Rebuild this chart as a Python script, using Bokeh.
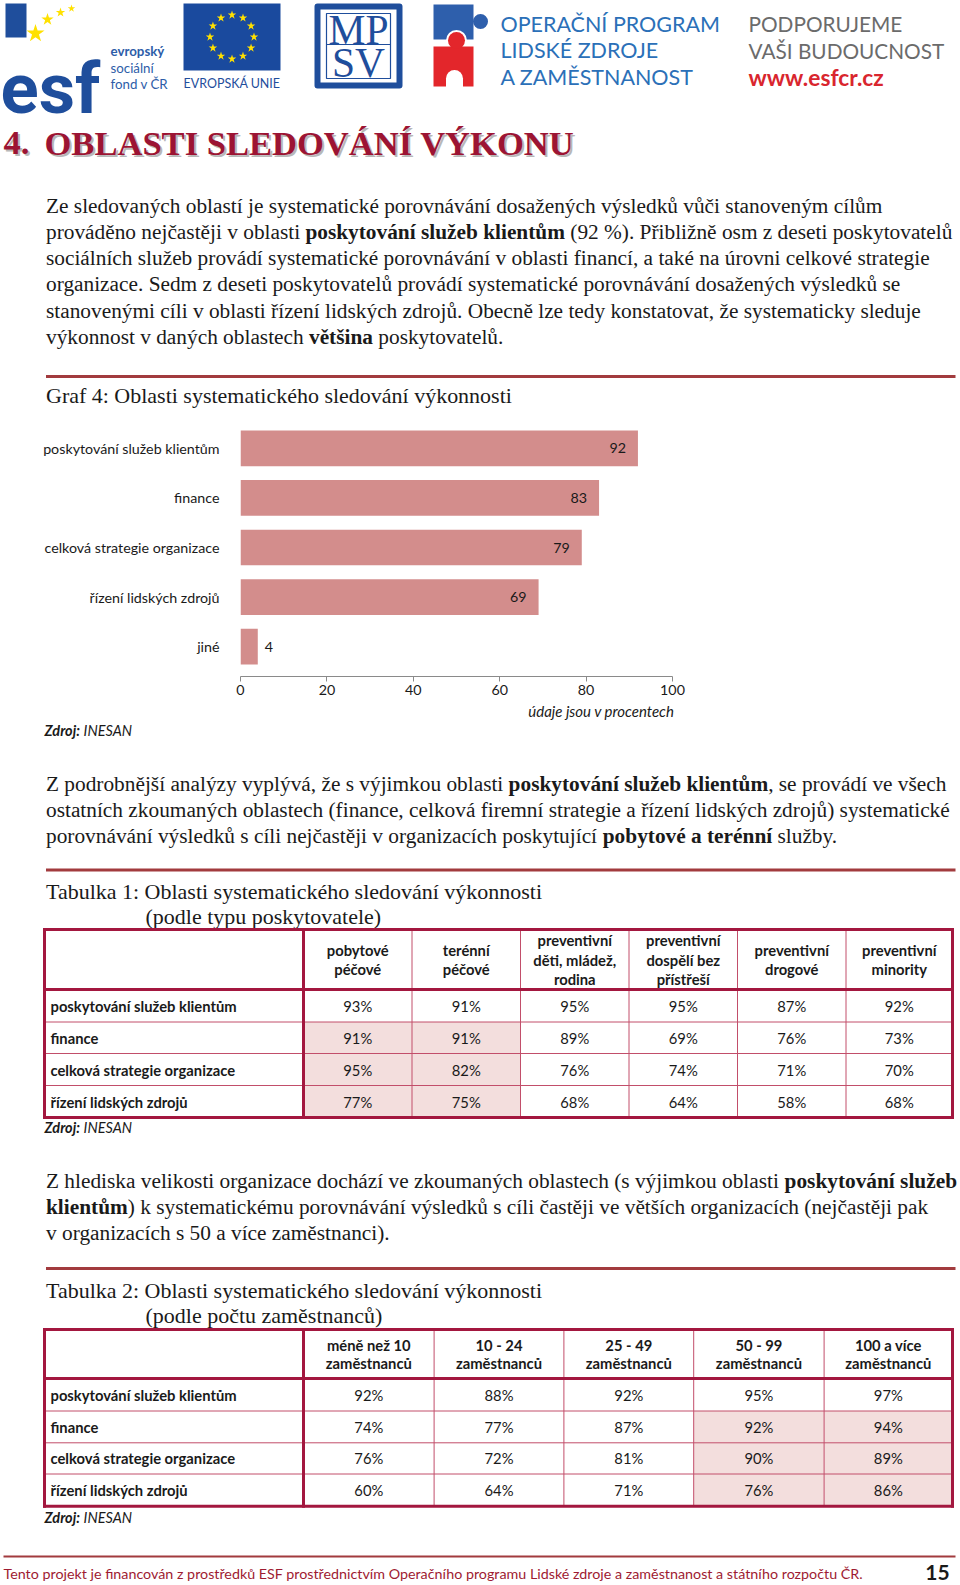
import glob
import math
import os
import struct
import subprocess

from bokeh.core.properties import value
from bokeh.embed import file_html
from bokeh.layouts import column
from bokeh.models import FactorRange, FixedTicker, Range1d
from bokeh.plotting import figure
from bokeh.resources import INLINE

# ======================= DATA =======================
graf_categories = ["poskytování služeb klientům", "finance", "celková strategie organizace",
                   "řízení lidských zdrojů", "jiné"]
graf_values = [92, 83, 79, 69, 4]
graf_ticks = [0, 20, 40, 60, 80, 100]

table_row_labels = ["poskytování služeb klientům", "finance", "celková strategie organizace",
                    "řízení lidských zdrojů"]

t1_headers = [["pobytové", "péčové"], ["terénní", "péčové"],
              ["preventivní", "děti, mládež,", "rodina"],
              ["preventivní", "dospělí bez", "přístřeší"],
              ["preventivní", "drogové"], ["preventivní", "minority"]]
t1_pobytove_pecove = [93, 91, 95, 77]
t1_terenni_pecove = [91, 91, 82, 75]
t1_preventivni_deti = [95, 89, 76, 68]
t1_preventivni_dospeli = [95, 69, 74, 64]
t1_preventivni_drogove = [87, 76, 71, 58]
t1_preventivni_minority = [92, 73, 70, 68]

t2_headers = [["méně než 10", "zaměstnanců"], ["10 - 24", "zaměstnanců"],
              ["25 - 49", "zaměstnanců"], ["50 - 99", "zaměstnanců"],
              ["100 a více", "zaměstnanců"]]
t2_do_10 = [92, 74, 76, 60]
t2_10_24 = [88, 77, 72, 64]
t2_25_49 = [92, 87, 81, 71]
t2_50_99 = [95, 92, 90, 76]
t2_100_a_vice = [97, 94, 89, 86]

# ======================= TEXTS =======================
heading_number = "4."
heading_text = "OBLASTI SLEDOVÁNÍ VÝKONU"
para1 = [
    [("Ze sledovaných oblastí je systematické porovnávání dosažených výsledků vůči stanoveným cílům", "normal")],
    [("prováděno nejčastěji v oblasti ", "normal"), ("poskytování služeb klientům", "bold"),
     (" (92 %). Přibližně osm z deseti poskytovatelů", "normal")],
    [("sociálních služeb provádí systematické porovnávání v oblasti financí, a také na úrovni celkové strategie", "normal")],
    [("organizace. Sedm z deseti poskytovatelů provádí systematické porovnávání dosažených výsledků se", "normal")],
    [("stanovenými cíli v oblasti řízení lidských zdrojů. Obecně lze tedy konstatovat, že systematicky sleduje", "normal")],
    [("výkonnost v daných oblastech ", "normal"), ("většina", "bold"), (" poskytovatelů.", "normal")],
]
para2 = [
    [("Z podrobnější analýzy vyplývá, že s výjimkou oblasti ", "normal"), ("poskytování služeb klientům", "bold"),
     (", se provádí ve všech", "normal")],
    [("ostatních zkoumaných oblastech (finance, celková firemní strategie a řízení lidských zdrojů) systematické", "normal")],
    [("porovnávání výsledků s cíli nejčastěji v organizacích poskytující ", "normal"), ("pobytové a terénní", "bold"),
     (" služby.", "normal")],
]
para3 = [
    [("Z hlediska velikosti organizace dochází ve zkoumaných oblastech (s výjimkou oblasti ", "normal"),
     ("poskytování služeb", "bold")],
    [("klientům", "bold"),
     (") k systematickému porovnávání výsledků s cíli častěji ve větších organizacích (nejčastěji pak", "normal")],
    [("v organizacích s 50 a více zaměstnanci).", "normal")],
]
graf_title = "Graf 4: Oblasti systematického sledování výkonnosti"
tab1_title = "Tabulka 1: Oblasti systematického sledování výkonnosti"
tab1_sub = "(podle typu poskytovatele)"
tab2_title = "Tabulka 2: Oblasti systematického sledování výkonnosti"
tab2_sub = "(podle počtu zaměstnanců)"
unit_note = "údaje jsou v procentech"
footer_text = ("Tento projekt je financován z prostředků ESF prostřednictvím Operačního programu "
               "Lidské zdroje a zaměstnanost a státního rozpočtu ČR.")
page_number = "15"

# ======================= STYLE =======================
SERIF = "Liberation Serif"
SANS = "Lato"
TXT = "#1a1a1a"
RULE = "#a23b3e"
BAR = "#d38d8c"
SHADE = "#f3dedd"
THICK = "#a3173f"
THIN = "#c24e6a"
CRIMSON = "#9c1433"
BLUE = "#1f4e9c"
OPBLUE = "#2b70b8"

# ======================= FONT METRICS =======================
FONT_DIRS = ["/usr/share/fonts", "/usr/local/share/fonts",
             os.path.expanduser("~/.fonts"), os.path.expanduser("~/.local/share/fonts")]
FONT_SPECS = {
    (SERIF, "normal"): (["LiberationSerif-Regular.ttf"], "Liberation Serif:style=Regular"),
    (SERIF, "bold"): (["LiberationSerif-Bold.ttf"], "Liberation Serif:style=Bold"),
    (SANS, "normal"): (["Lato-Regular.ttf"], "Lato:style=Regular"),
    (SANS, "bold"): (["Lato-Bold.ttf"], "Lato:style=Bold"),
    (SANS, "italic"): (["Lato-Italic.ttf"], "Lato:style=Italic"),
    (SANS, "bold italic"): (["Lato-BoldItalic.ttf"], "Lato:style=Bold Italic"),
    ("Roboto", "bold"): (["Roboto-Bold.ttf"], "Roboto:style=Bold"),
}


def _find(names, query):
    for d in FONT_DIRS:
        if not os.path.isdir(d):
            continue
        for n in names:
            hits = glob.glob(os.path.join(d, "**", n), recursive=True)
            if hits:
                return hits[0]
    try:
        r = subprocess.run(["fc-match", "-f", "%{file}", query], capture_output=True, text=True, timeout=10)
        f = r.stdout.strip()
        if f and os.path.exists(f):
            return f
    except Exception:
        pass
    return None


class Metrics:
    def __init__(self, path):
        d = open(path, "rb").read()
        base = 0
        if d[:4] == b"ttcf":
            base = struct.unpack(">I", d[12:16])[0]

        def u16(o):
            return struct.unpack(">H", d[o:o + 2])[0]

        n = u16(base + 4)
        tabs = {}
        for i in range(n):
            tag, _cs, off, _ln = struct.unpack(">4sIII", d[base + 12 + 16 * i: base + 28 + 16 * i])
            tabs[tag] = off
        self.upem = u16(tabs[b"head"] + 18)
        nhm = u16(tabs[b"hhea"] + 34)
        h = tabs[b"hmtx"]
        self.adv = [u16(h + 4 * i) for i in range(nhm)]
        self.cmap = {}
        c = tabs[b"cmap"]
        nsub = u16(c + 2)
        subs = []
        for i in range(nsub):
            pid, eid, off = struct.unpack(">HHI", d[c + 4 + 8 * i: c + 12 + 8 * i])
            subs.append((u16(c + off), pid, eid, c + off))
        subs.sort(key=lambda s: 0 if s[0] == 12 else (1 if s[0] == 4 else 2))
        for fmt, pid, eid, o in subs:
            if fmt == 12:
                ng = struct.unpack(">I", d[o + 12:o + 16])[0]
                for i in range(ng):
                    sc, ec, sg = struct.unpack(">III", d[o + 16 + 12 * i:o + 28 + 12 * i])
                    for ch in range(sc, min(ec, 0x3000) + 1):
                        self.cmap[ch] = sg + ch - sc
                break
            if fmt == 4:
                segx2 = u16(o + 6)
                ends = o + 14
                starts = ends + segx2 + 2
                deltas = starts + segx2
                ros = deltas + segx2
                for i in range(segx2 // 2):
                    e = u16(ends + 2 * i)
                    s = u16(starts + 2 * i)
                    dl = u16(deltas + 2 * i)
                    ro = u16(ros + 2 * i)
                    if s == 0xFFFF:
                        continue
                    for ch in range(s, min(e, 0x3000) + 1):
                        if ro == 0:
                            g = (ch + dl) & 0xFFFF
                        else:
                            g = u16(ros + 2 * i + ro + 2 * (ch - s))
                            if g:
                                g = (g + dl) & 0xFFFF
                        self.cmap[ch] = g
                break

    def width(self, text):
        tot = 0.0
        for ch in text:
            g = self.cmap.get(ord(ch))
            if g is None:
                tot += self.upem * 0.5
            else:
                tot += self.adv[min(g, len(self.adv) - 1)]
        return tot / self.upem


_METRICS = {}


def metrics(fam, style):
    key = (fam, style)
    if key not in _METRICS:
        m = None
        if key in FONT_SPECS:
            try:
                path = _find(*FONT_SPECS[key])
                if path:
                    m = Metrics(path)
            except Exception:
                m = None
        _METRICS[key] = m
    return _METRICS[key]


def tw(text, fam, style, size):
    m = metrics(fam, style)
    if m is None:
        return 0.5 * size * len(text)
    return m.width(text) * size


def fit(text, fam, style, target, lo=6.0, hi=90.0):
    w = tw(text, fam, style, 1.0)
    if w <= 0:
        return 14.0
    return max(lo, min(hi, target / w))


def rich_width(segs, fam, size):
    return sum(tw(t, fam, st, size) for t, st in segs)


def put(p, x, y, text, fam, style, size, color, align="left", baseline="middle"):
    p.text(x=[x], y=[y], text=[text], text_font=value(fam), text_font_style=style,
           text_font_size=f"{size:.2f}px", text_color=color, text_align=align,
           text_baseline=baseline)


def put_rich(p, x, y, segs, fam, size, color):
    cx = x
    for t, st in segs:
        lead = len(t) - len(t.lstrip(" "))
        trail = len(t) - len(t.rstrip(" "))
        core = t.strip(" ")
        cx += tw(" " * lead, fam, st, size)
        if core:
            put(p, cx, y, core, fam, st, size, color)
            cx += tw(core, fam, st, size)
        cx += tw(" " * trail, fam, st, size)


# ---------- font sizes fitted to measured widths in the reference ----------
W, H = 960, 1585
LEFT = 45.5
para_targets = [(para1, [884, 955, 956, 907, 918, 503]),
                (para2, [944, 947, 831]),
                (para3, [953, 921, 410])]
_tw = sum(r - LEFT for _, rs in para_targets for r in rs)
_w1 = sum(rich_width(line, SERIF, 1.0) for para, _ in para_targets for line in para)
BODY = _tw / _w1
for para, _ in para_targets:
    for line in para:
        BODY = min(BODY, (956.5 - LEFT) / rich_width(line, SERIF, 1.0))
BODY = max(12.0, min(24.0, BODY))
HEAD = fit(heading_text, SERIF, "bold", 530)
CAPTION = fit(graf_title, SERIF, "normal", 466)
CHART_LBL = fit("poskytování služeb klientům", SANS, "normal", 177)
TABLE_LBL = fit("poskytování služeb klientům", SANS, "bold", 187)
UNIT = fit(unit_note, SANS, "italic", 147)
ZDROJ = 88.0 / max(1e-6, tw("Zdroj:", SANS, "bold italic", 1) + tw(" INESAN", SANS, "italic", 1))
FOOT = fit(footer_text, SANS, "normal", 865)


def put_zdroj(p, x, y, size):
    put(p, x, y, "Zdroj:", SANS, "bold italic", size, TXT)
    put(p, x + tw("Zdroj: ", SANS, "bold italic", size), y, "INESAN", SANS, "italic", size, TXT)


def page_figure(top, bottom):
    p = figure(width=W, height=bottom - top, x_range=Range1d(0, W), y_range=Range1d(bottom, top),
               output_backend="svg", toolbar_location=None, x_axis_location=None,
               y_axis_location=None, min_border=0, outline_line_color=None,
               background_fill_color="white", border_fill_color="white", frame_align=False)
    p.grid.visible = False
    return p


# ======================= FIGURE A: header, logos, paragraph 1 =======================
pa = page_figure(0, 415)

# --- ESF logo ---
pa.quad(left=[5], right=[26], top=[3], bottom=[37], fill_color=BLUE, line_color=None)
put(pa, 0, 88, "esf", "Roboto", "bold", fit("esf", "Roboto", "bold", 100), BLUE, baseline="alphabetic")
pa.scatter(x=[35, 47, 60, 71], y=[33, 19, 12, 8], size=[19, 13, 10, 8], marker="star",
           fill_color="#ffe100", line_color=None)
small = fit("fond v ČR", SANS, "normal", 58)
put(pa, 110, 50, "evropský", SANS, "bold", small, "#2d5da8")
put(pa, 110, 67, "sociální", SANS, "normal", small, "#2d5da8")
put(pa, 110, 83, "fond v ČR", SANS, "normal", small, "#2d5da8")

# --- EU flag ---
pa.quad(left=[183], right=[280], top=[3], bottom=[70], fill_color="#1a4a9e", line_color=None)
ang = [2 * math.pi * k / 12 for k in range(12)]
pa.scatter(x=[231.5 + 22 * math.cos(a) for a in ang], y=[36.5 + 22 * math.sin(a) for a in ang],
           marker="star", size=9, fill_color="#ffe000", line_color=None)
put(pa, 231.5, 83, "EVROPSKÁ UNIE", SANS, "normal", fit("EVROPSKÁ UNIE", SANS, "normal", 97), BLUE,
    align="center")

# --- MPSV ---
pa.quad(left=[317], right=[399], top=[6], bottom=[85], fill_color="white", line_color=BLUE,
        line_width=6, line_join="round")
pa.quad(left=[326], right=[390], top=[13], bottom=[78], fill_color=None, line_color=BLUE, line_width=1.2)
pa.segment(x0=[326], y0=[44], x1=[390], y1=[44], line_color=BLUE, line_width=1.2)
mp = fit("MP", SERIF, "normal", 60)
put(pa, 358, 29, "MP", SERIF, "normal", mp, BLUE, align="center")
put(pa, 358, 62, "SV", SERIF, "normal", mp, BLUE, align="center")

# --- OP LZZ puzzle ---
pa.quad(left=[433], right=[473], top=[4], bottom=[39], fill_color="#2e5fac", line_color=None)
pa.circle(x=[480], y=[21], radius=7.5, fill_color="#2e5fac", line_color=None)
pa.circle(x=[456], y=[40], radius=10.5, fill_color="white", line_color=None)
pa.quad(left=[433], right=[473], top=[46], bottom=[86], fill_color="#e3262b", line_color=None)
pa.circle(x=[456], y=[40], radius=8.5, fill_color="#e3262b", line_color=None)
pa.circle(x=[454], y=[78], radius=8.5, fill_color="white", line_color=None)
pa.quad(left=[445.5], right=[462.5], top=[78], bottom=[87], fill_color="white", line_color=None)
op = fit("OPERAČNÍ PROGRAM", SANS, "normal", 220)
put(pa, 500, 23, "OPERAČNÍ PROGRAM", SANS, "normal", op, OPBLUE)
put(pa, 500, 49.5, "LIDSKÉ ZDROJE", SANS, "normal", op, OPBLUE)
put(pa, 500, 76, "A ZAMĚSTNANOST", SANS, "normal", op, OPBLUE)
pod = fit("VAŠI BUDOUCNOST", SANS, "normal", 197)
put(pa, 748, 23, "PODPORUJEME", SANS, "normal", pod, "#6b6b6b")
put(pa, 748, 49.5, "VAŠI BUDOUCNOST", SANS, "normal", pod, "#6b6b6b")
put(pa, 748, 77, "www.esfcr.cz", SANS, "bold", fit("www.esfcr.cz", SANS, "bold", 137), "#d9262e")

# --- heading ---
for dx, col in ((2, "#b8b8b8"), (0, CRIMSON)):
    put(pa, 3 + dx, 142 + dx, heading_number, SERIF, "bold", HEAD, col)
    put(pa, 44 + dx, 142 + dx, heading_text, SERIF, "bold", HEAD, col)

# --- paragraph 1 ---
for i, line in enumerate(para1):
    put_rich(pa, LEFT, 205 + 26.3 * i, line, SERIF, BODY, TXT)

pa.segment(x0=[45.5], y0=[376], x1=[955], y1=[376], line_color=RULE, line_width=3)
put(pa, LEFT, 395, graf_title, SERIF, "normal", CAPTION, TXT)

# ======================= FIGURE B: bar chart =======================
pb = figure(width=W, height=286, x_range=Range1d(0, 100),
            y_range=FactorRange(factors=list(reversed(graf_categories)), range_padding=0.1,
                                range_padding_units="absolute"),
            output_backend="svg", toolbar_location=None, frame_align=False,
            min_border_left=240, min_border_right=W - 240 - 432, min_border_top=3, min_border_bottom=25,
            outline_line_color=None, background_fill_color="white", border_fill_color="white")
pb.hbar(y=graf_categories, right=graf_values, left=0, height=0.72, fill_color=BAR, line_color=None)

inside = [(c, v) for c, v in zip(graf_categories, graf_values) if v >= 10]
outside = [(c, v) for c, v in zip(graf_categories, graf_values) if v < 10]
pb.text(x=[v for _, v in inside], y=[c for c, _ in inside], text=[str(v) for _, v in inside],
        text_align="right", text_baseline="middle", x_offset=-12, text_font=value(SANS),
        text_font_size=f"{CHART_LBL:.2f}px", text_color=TXT)
pb.text(x=[v for _, v in outside], y=[c for c, _ in outside], text=[str(v) for _, v in outside],
        text_align="left", text_baseline="middle", x_offset=7, text_font=value(SANS),
        text_font_size=f"{CHART_LBL:.2f}px", text_color=TXT)

pb.xgrid.grid_line_color = None
pb.ygrid.grid_line_color = None
pb.xaxis.ticker = FixedTicker(ticks=graf_ticks)
pb.xaxis.axis_line_color = "#8a8a8a"
pb.xaxis.major_tick_line_color = "#8a8a8a"
pb.xaxis.major_tick_out = 5
pb.xaxis.major_tick_in = 0
pb.xaxis.minor_tick_line_color = None
pb.xaxis.major_label_standoff = 3
pb.xaxis.major_label_text_font = SANS
pb.xaxis.major_label_text_font_size = f"{CHART_LBL:.2f}px"
pb.xaxis.major_label_text_color = TXT
pb.yaxis.axis_line_color = None
pb.yaxis.major_tick_line_color = None
pb.yaxis.minor_tick_line_color = None
pb.yaxis.major_label_standoff = 15
pb.yaxis.major_label_text_font = SANS
pb.yaxis.major_label_text_font_size = f"{CHART_LBL:.2f}px"
pb.yaxis.major_label_text_color = TXT

# ======================= FIGURE C: notes, paragraphs, tables, footer =======================
pc = page_figure(701, H)

put(pc, 674, 710, unit_note, SANS, "italic", UNIT, TXT, align="right")
put_zdroj(pc, 44, 730, ZDROJ)

for i, line in enumerate(para2):
    put_rich(pc, LEFT, 783 + 26.3 * i, line, SERIF, BODY, TXT)

pc.segment(x0=[45.5], y0=[869.5], x1=[955], y1=[869.5], line_color=RULE, line_width=3)
put(pc, LEFT, 891, tab1_title, SERIF, "normal", CAPTION, TXT)
put(pc, 145, 916, tab1_sub, SERIF, "normal", CAPTION, TXT)


def draw_table(p, xs, ys, headers, columns, shade, hdr_step):
    if shade:
        p.quad(left=[xs[c + 1] for r, c in shade], right=[xs[c + 2] for r, c in shade],
               top=[ys[r + 1] for r, c in shade], bottom=[ys[r + 2] for r, c in shade],
               fill_color=SHADE, line_color=None)
    x0, y0, x1, y1 = [], [], [], []
    for x in xs[2:-1]:
        x0.append(x); y0.append(ys[0]); x1.append(x); y1.append(ys[-1])
    for y in ys[2:-1]:
        x0.append(xs[0]); y0.append(y); x1.append(xs[-1]); y1.append(y)
    p.segment(x0=x0, y0=y0, x1=x1, y1=y1, line_color=THIN, line_width=1)
    th = [(xs[0], ys[0], xs[-1], ys[0]), (xs[0], ys[-1], xs[-1], ys[-1]),
          (xs[0], ys[0], xs[0], ys[-1]), (xs[-1], ys[0], xs[-1], ys[-1]),
          (xs[0], ys[1], xs[-1], ys[1]), (xs[1], ys[0], xs[1], ys[-1])]
    p.segment(x0=[a[0] for a in th], y0=[a[1] for a in th], x1=[a[2] for a in th],
              y1=[a[3] for a in th], line_color=THICK, line_width=3, line_cap="square")
    hc = (ys[0] + ys[1]) / 2
    for ci, lines in enumerate(headers):
        cx = (xs[ci + 1] + xs[ci + 2]) / 2
        n = len(lines)
        for li, t in enumerate(lines):
            put(p, cx, hc + (li - (n - 1) / 2) * hdr_step, t, SANS, "bold", TABLE_LBL, TXT, align="center")
    for ri, lab in enumerate(table_row_labels):
        cy = (ys[ri + 1] + ys[ri + 2]) / 2
        put(p, xs[0] + 6, cy, lab, SANS, "bold", TABLE_LBL, TXT)
        for ci, col in enumerate(columns):
            put(p, (xs[ci + 1] + xs[ci + 2]) / 2, cy, f"{col[ri]}%", SANS, "normal", TABLE_LBL, TXT,
                align="center")


draw_table(pc, [44, 303, 411.5, 520, 628.5, 737, 845.5, 952],
           [929, 989, 1021.5, 1053, 1085, 1117],
           t1_headers,
           [t1_pobytove_pecove, t1_terenni_pecove, t1_preventivni_deti, t1_preventivni_dospeli,
            t1_preventivni_drogove, t1_preventivni_minority],
           [(r, c) for r in (1, 2, 3) for c in (0, 1)], 19.5)
put_zdroj(pc, 44, 1127, ZDROJ)

for i, line in enumerate(para3):
    put_rich(pc, LEFT, 1180 + 26.3 * i, line, SERIF, BODY, TXT)

pc.segment(x0=[45.5], y0=[1268], x1=[955], y1=[1268], line_color=RULE, line_width=3)
put(pc, LEFT, 1289.5, tab2_title, SERIF, "normal", CAPTION, TXT)
put(pc, 145, 1314.5, tab2_sub, SERIF, "normal", CAPTION, TXT)

draw_table(pc, [44, 303, 433.6, 563.4, 693.2, 823.6, 952],
           [1329, 1378, 1410.5, 1442.3, 1473.5, 1505.7],
           t2_headers, [t2_do_10, t2_10_24, t2_25_49, t2_50_99, t2_100_a_vice],
           [(r, c) for r in (1, 2, 3) for c in (3, 4)], 18.5)
put_zdroj(pc, 44, 1517, ZDROJ)

pc.segment(x0=[3], y0=[1556], x1=[955], y1=[1556], line_color=RULE, line_width=2)
put(pc, 3, 1573, footer_text, SANS, "normal", FOOT, "#9e1b32")
put(pc, 937, 1572, page_number, SANS, "bold", 21, TXT, align="center")

layout = column(pa, pb, pc, spacing=0)
open("out.html", "w", encoding="utf-8").write(file_html(layout, INLINE, title="Oblasti sledování výkonu"))
